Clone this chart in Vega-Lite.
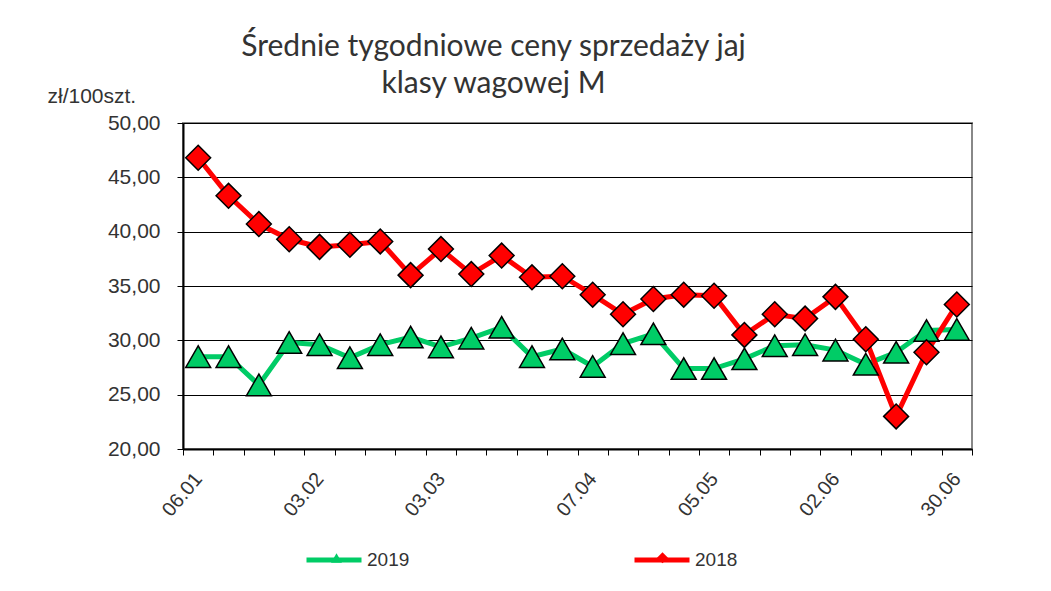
{
  "$schema": "https://vega.github.io/schema/vega-lite/v6.json",
  "autosize": "none",
  "width": 789,
  "height": 326,
  "padding": {"left": 183, "top": 123, "right": 79, "bottom": 142},
  "background": "white",
  "title": {
    "text": ["Średnie tygodniowe ceny sprzedaży jaj", "klasy wagowej M"],
    "anchor": "middle",
    "frame": "group",
    "dx": -84,
    "dy": 36,
    "offset": 22,
    "font": "Lato",
    "fontSize": 30,
    "fontWeight": "normal",
    "color": "#333333",
    "lineHeight": 37
  },
  "data": {
    "values": [
      {"week": "06.01", "series": "2019", "value": 28.5},
      {"week": "13.01", "series": "2019", "value": 28.5},
      {"week": "20.01", "series": "2019", "value": 25.9},
      {"week": "27.01", "series": "2019", "value": 29.8},
      {"week": "03.02", "series": "2019", "value": 29.6},
      {"week": "10.02", "series": "2019", "value": 28.4},
      {"week": "17.02", "series": "2019", "value": 29.6},
      {"week": "24.02", "series": "2019", "value": 30.3},
      {"week": "03.03", "series": "2019", "value": 29.4},
      {"week": "10.03", "series": "2019", "value": 30.2},
      {"week": "17.03", "series": "2019", "value": 31.2},
      {"week": "24.03", "series": "2019", "value": 28.5},
      {"week": "31.03", "series": "2019", "value": 29.2},
      {"week": "07.04", "series": "2019", "value": 27.6},
      {"week": "14.04", "series": "2019", "value": 29.7},
      {"week": "21.04", "series": "2019", "value": 30.6},
      {"week": "28.04", "series": "2019", "value": 27.4},
      {"week": "05.05", "series": "2019", "value": 27.4},
      {"week": "12.05", "series": "2019", "value": 28.3},
      {"week": "19.05", "series": "2019", "value": 29.5},
      {"week": "26.05", "series": "2019", "value": 29.6},
      {"week": "02.06", "series": "2019", "value": 29.1},
      {"week": "09.06", "series": "2019", "value": 27.8},
      {"week": "16.06", "series": "2019", "value": 28.9},
      {"week": "23.06", "series": "2019", "value": 30.9},
      {"week": "30.06", "series": "2019", "value": 31.0},
      {"week": "06.01", "series": "2018", "value": 46.8},
      {"week": "13.01", "series": "2018", "value": 43.3},
      {"week": "20.01", "series": "2018", "value": 40.7},
      {"week": "27.01", "series": "2018", "value": 39.3},
      {"week": "03.02", "series": "2018", "value": 38.6},
      {"week": "10.02", "series": "2018", "value": 38.8},
      {"week": "17.02", "series": "2018", "value": 39.1},
      {"week": "24.02", "series": "2018", "value": 36.0},
      {"week": "03.03", "series": "2018", "value": 38.4},
      {"week": "10.03", "series": "2018", "value": 36.1},
      {"week": "17.03", "series": "2018", "value": 37.8},
      {"week": "24.03", "series": "2018", "value": 35.8},
      {"week": "31.03", "series": "2018", "value": 35.9},
      {"week": "07.04", "series": "2018", "value": 34.2},
      {"week": "14.04", "series": "2018", "value": 32.4},
      {"week": "21.04", "series": "2018", "value": 33.8},
      {"week": "28.04", "series": "2018", "value": 34.2},
      {"week": "05.05", "series": "2018", "value": 34.1},
      {"week": "12.05", "series": "2018", "value": 30.5},
      {"week": "19.05", "series": "2018", "value": 32.4},
      {"week": "26.05", "series": "2018", "value": 32.0},
      {"week": "02.06", "series": "2018", "value": 34.0},
      {"week": "09.06", "series": "2018", "value": 30.1},
      {"week": "16.06", "series": "2018", "value": 23.0},
      {"week": "23.06", "series": "2018", "value": 28.9},
      {"week": "30.06", "series": "2018", "value": 33.3}
    ]
  },
  "encoding": {
    "x": {
      "field": "week",
      "type": "nominal",
      "sort": null,
      "scale": {"type": "band", "paddingInner": 0, "paddingOuter": 0},
      "axis": {
        "title": null,
        "tickBand": "extent",
        "labelAngle": -50,
        "labelOverlap": false,
        "labelExpr": "indexof(['06.01','03.02','03.03','07.04','05.05','02.06','30.06'], datum.value) >= 0 ? datum.value : ''",
        "labelFont": "Liberation Sans",
        "labelFontSize": 20,
        "labelColor": "#333333",
        "labelPadding": 20,
        "tickSize": 6,
        "tickColor": "black",
        "domainColor": "black",
        "domainWidth": 2,
        "grid": false
      }
    },
    "y": {
      "field": "value",
      "type": "quantitative",
      "scale": {"domain": [20, 50], "nice": false, "zero": false},
      "axis": {
        "title": "zł/100szt.",
        "titleAngle": 0,
        "titleAlign": "left",
        "titleBaseline": "alphabetic",
        "titleX": -136,
        "titleY": -21,
        "titleFont": "Liberation Sans",
        "titleFontSize": 21,
        "titleFontWeight": "normal",
        "titleColor": "#333333",
        "values": [20, 25, 30, 35, 40, 45, 50],
        "labelExpr": "replace(format(datum.value, '.2f'), '.', ',')",
        "labelFont": "Liberation Sans",
        "labelFontSize": 21,
        "labelColor": "#333333",
        "labelPadding": 17,
        "tickSize": 6,
        "tickColor": "black",
        "domainColor": "black",
        "domainWidth": 2,
        "grid": true,
        "gridColor": "black",
        "gridWidth": 1,
        "gridOpacity": 1
      }
    }
  },
  "layer": [
    {
      "mark": {"type": "line", "strokeWidth": 5},
      "encoding": {
        "color": {
          "field": "series",
          "type": "nominal",
          "scale": {"domain": ["2019", "2018"], "range": ["#00cc66", "#ff0000"]},
          "legend": {
            "orient": "none",
            "legendX": 121,
            "legendY": 407,
            "direction": "horizontal",
            "title": null,
            "padding": 0,
            "symbolType": "stroke",
            "symbolStrokeWidth": 5,
            "symbolSize": 3025,
            "labelFont": "Liberation Sans",
            "labelFontSize": 19,
            "labelColor": "#333333",
            "labelOffset": 3,
            "columnPadding": 214
          }
        }
      }
    },
    {
      "mark": {"type": "point", "filled": true, "stroke": "black", "strokeWidth": 1.5, "size": 620, "opacity": 1},
      "encoding": {
        "fill": {
          "field": "series",
          "type": "nominal",
          "sort": "descending",
          "scale": {"range": ["#00cc66", "#ff0000"]},
          "legend": {
            "orient": "none",
            "legendX": 144.5,
            "legendY": 425.5,
            "direction": "horizontal",
            "title": null,
            "padding": 0,
            "symbolSize": 120,
            "symbolStrokeColor": "black",
            "symbolStrokeWidth": 2,
            "labelExpr": "''",
            "labelFontSize": 18,
            "labelOffset": 5,
            "columnPadding": 302
          }
        },
        "shape": {
          "field": "series",
          "type": "nominal",
          "sort": "descending",
          "scale": {"range": ["triangle-up", "diamond"]},
          "legend": {
            "orient": "none",
            "legendX": 144.5,
            "legendY": 425.5,
            "direction": "horizontal",
            "title": null,
            "padding": 0,
            "symbolSize": 120,
            "symbolStrokeColor": "black",
            "symbolStrokeWidth": 2,
            "labelExpr": "''",
            "labelFontSize": 18,
            "labelOffset": 5,
            "columnPadding": 302
          }
        }
      }
    }
  ],
  "config": {
    "view": {"stroke": "#888888", "strokeWidth": 2}
  }
}
